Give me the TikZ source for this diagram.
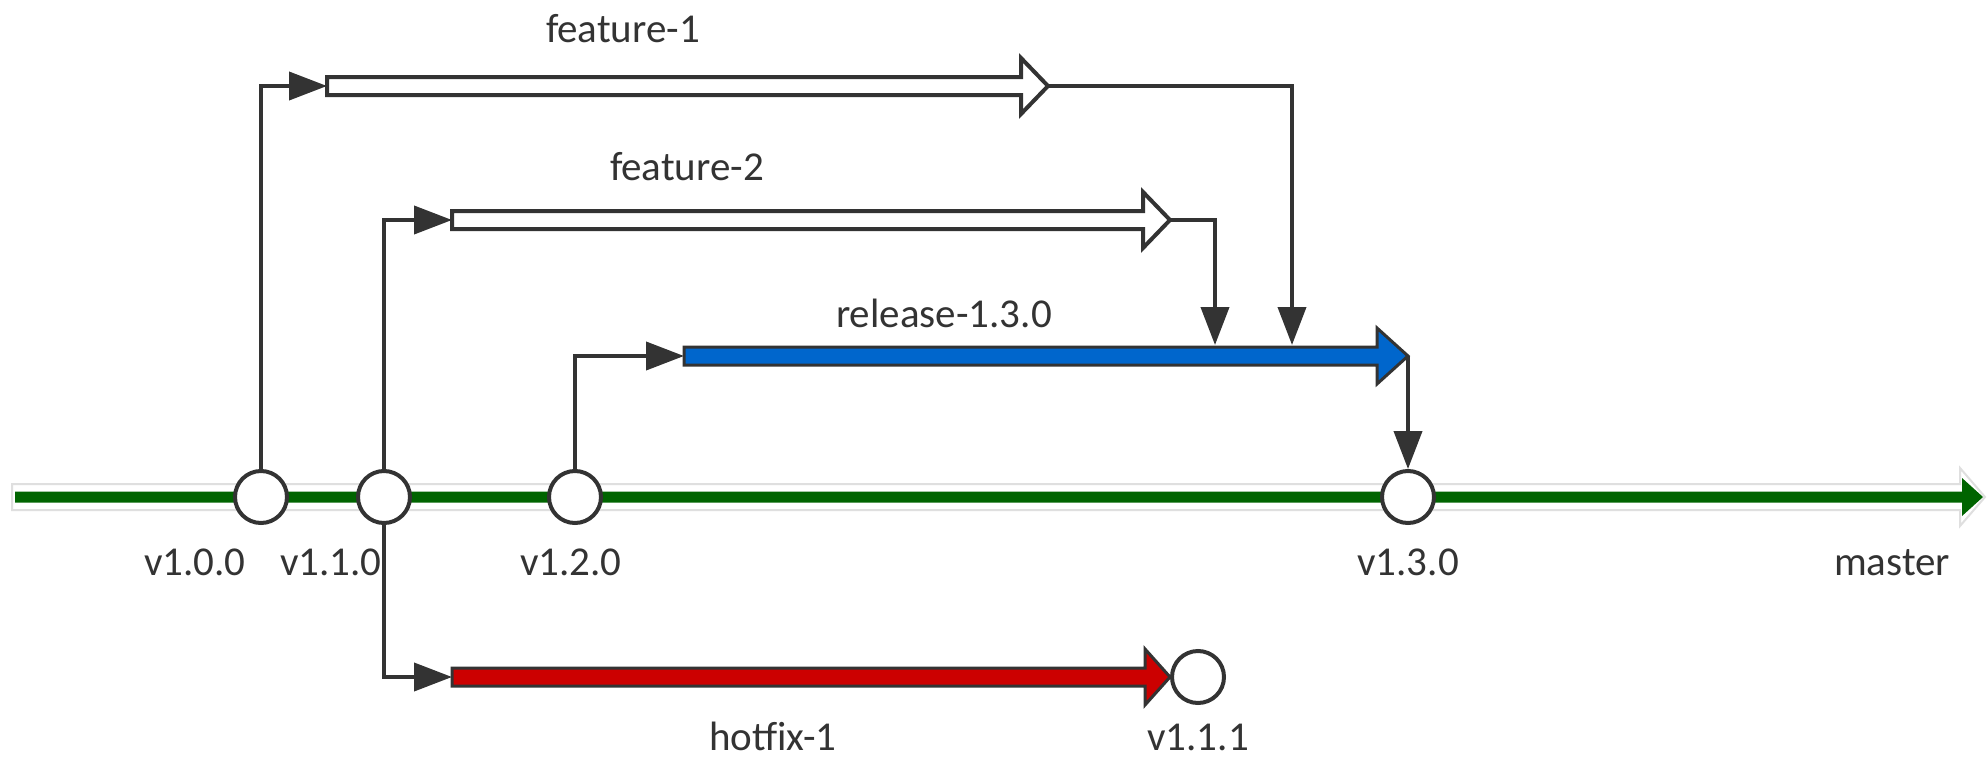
\documentclass[tikz,border=0pt]{standalone}
\usepackage{fontspec}
\setmainfont{Carlito}
\usetikzlibrary{arrows.meta,calc}
\definecolor{ink}{HTML}{333333}
\definecolor{mastergreen}{RGB}{0,100,0}
\definecolor{releaseblue}{RGB}{0,102,204}
\definecolor{hotfixred}{RGB}{204,0,0}
% horizontal block arrow: #1 style, #2 tail, #3 tip, #4 shaft half-width,
% #5 head length, #6 head half-width
\newcommand\blockarrow[6]{%
  \path[#1] ($(#2)+(0,-#4)$) -- ($(#3)+(-#5,-#4)$) -- ($(#3)+(-#5,-#6)$)
    -- (#3) -- ($(#3)+(-#5,#6)$) -- ($(#3)+(-#5,#4)$) -- ($(#2)+(0,#4)$) -- cycle;}
\begin{document}
\begin{tikzpicture}[x=0.5pt,y=-0.5pt,
  commit/.style={circle, draw=ink, fill=white, line width=2pt, minimum size=26pt, inner sep=0pt},
  conn/.style={draw=ink, line width=2pt, -{Triangle[length=19pt,width=14pt]}},
  txt/.style={text=ink, font=\fontsize{20.5}{24}\selectfont, anchor=base, inner sep=0pt},
  hollow/.style={draw=ink, line width=2pt, fill=white},
  filledbranch/.style={draw=ink, line width=1.5pt, fill=#1}]
\useasboundingbox (0,0) rectangle (1987,760);
\fill[white] (0,0) rectangle (1987,760);

% master line
\coordinate (m0) at (12,497);
\coordinate (m1) at (1985,497);
\coordinate (g0) at (15,497);
\coordinate (g1) at (1983,497);
\blockarrow{draw=gray!25, line width=1pt, fill=white}{m0}{m1}{13}{25}{29}
\blockarrow{fill=mastergreen}{g0}{g1}{5.5}{21}{19}

% commits on master
\node[commit] (v100) at (261,497) {};
\node[commit] (v110) at (384,497) {};
\node[commit] (v120) at (575,497) {};
\node[commit] (v130) at (1408,497) {};
\node[commit] (v111) at (1198,677) {};

% branch arrows
\coordinate (f1t) at (327,86);
\coordinate (f1h) at (1048,86);
\coordinate (f2t) at (452,220);
\coordinate (f2h) at (1170,220);
\coordinate (rt) at (684,356);
\coordinate (rh) at (1408,356);
\coordinate (ht) at (452,677);
\coordinate (hh) at (1170,677);
\coordinate (mf1) at (1292,345);
\coordinate (mf2) at (1215,345);

\blockarrow{hollow}{f1t}{f1h}{9}{27}{28}
\blockarrow{hollow}{f2t}{f2h}{9}{27}{28}
\blockarrow{filledbranch=releaseblue}{rt}{rh}{9}{31}{28}
\blockarrow{filledbranch=hotfixred}{ht}{hh}{9}{25}{28}

% connectors
\draw[conn] (v100.north) |- (f1t);
\draw[conn] (v110.north) |- (f2t);
\draw[conn] (v120.north) |- (rt);
\draw[conn] (v110.south) |- (ht);
\draw[conn] (f1h) -| (mf1);
\draw[conn] (f2h) -| (mf2);
\draw[conn] (rh) -- (v130.north);

% labels
\node[txt] (lf1) at (623,42) {feature-1};
\node[txt] (lf2) at (687,180) {feature-2};
\node[txt] (lrel) at (944,327) {release-1.3.0};
\node[txt] (l100) at (195,575) {v1.0.0};
\node[txt] (l110) at (331,575) {v1.1.0};
\node[txt] (l120) at (571,575) {v1.2.0};
\node[txt] (l130) at (1408,575) {v1.3.0};
\node[txt] (lmaster) at (1892,575) {master};
\node[txt] (lhot) at (773,750) {hotfix-1};
\node[txt] (l111) at (1198,750) {v1.1.1};
\end{tikzpicture}
\end{document}
